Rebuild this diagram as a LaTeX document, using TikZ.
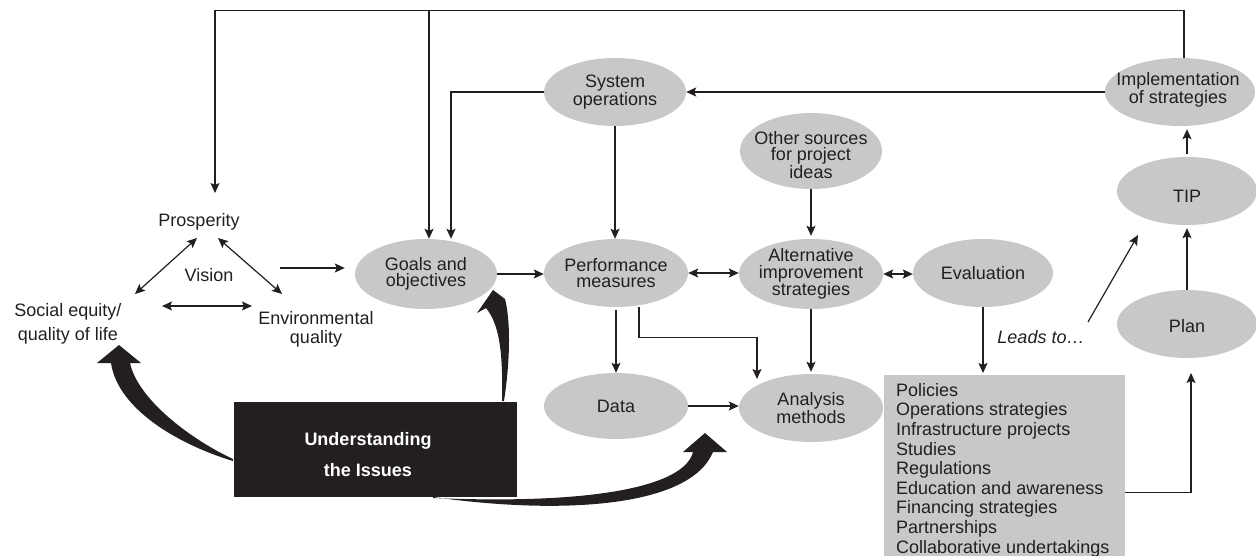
\documentclass[tikz,border=0pt]{standalone}
\usepackage{fontspec}
\setmainfont{Liberation Sans}
\usetikzlibrary{shapes.geometric,arrows.meta,calc}
\definecolor{ink}{HTML}{231F20}
\definecolor{ovalgray}{HTML}{C8C8CA}
\definecolor{boxgray}{HTML}{C8C8C8}
\begin{document}
\begin{tikzpicture}[x=1pt,y=-1pt,
  lbl/.style={font=\fontsize{18}{16.5}\selectfont, text=ink, align=center, inner sep=0pt},
  oval/.style 2 args={ellipse, fill=ovalgray, draw=none, inner sep=0pt, minimum width=#1, minimum height=#2},
  conn/.style={draw=ink, line width=1.2pt},
  arr/.style={conn, -{Stealth[length=10pt,width=9pt,inset=2pt]}},
  darr/.style={conn, {Stealth[length=10pt,width=9pt,inset=2pt]}-{Stealth[length=10pt,width=9pt,inset=2pt]}},
  fat/.style={fill=ink, draw=none}
]
\useasboundingbox (0,0) rectangle (1256,556);

% ---- ovals ----
\node[oval={142pt}{70pt}] (goals) at (426,274) {};
\node[lbl] at (goals) {Goals and\\objectives};
\node[oval={144pt}{68pt}] (perf) at (616,273) {};
\node[lbl] at (perf) {Performance\\measures};
\node[oval={144pt}{70pt}] (alt) at (811,274) {};
\node[lbl] at (alt) {Alternative\\improvement\\strategies};
\node[oval={140pt}{68pt}] (eval) at (983,273) {};
\node[lbl] at (eval) {Evaluation};
\node[oval={142pt}{68pt}] (sysops) at (615,92) {};
\node[lbl] at (sysops) {System\\operations};
\node[oval={142pt}{76pt}] (other) at (811,151) {};
\node[lbl] at (811,155) {Other sources\\for project\\ideas};
\node[oval={150pt}{68pt}] (impl) at (1180,92) {};
\node[lbl] at (1178,90) {Implementation\\of strategies};
\node[oval={140pt}{68pt}] (tip) at (1187,191) {};
\node[lbl] at (1187,196) {TIP};
\node[oval={140pt}{68pt}] (plan) at (1187,324) {};
\node[lbl] at (1187,326) {Plan};
\node[oval={144pt}{66pt}] (data) at (616,406) {};
\node[lbl] at (data) {Data};
\node[oval={144pt}{68pt}] (ana) at (811,408) {};
\node[lbl] at (ana) {Analysis\\methods};

% ---- vision texts ----
\node[lbl] (prosp) at (199,222) {Prosperity};
\node[lbl] (vision) at (209,275) {Vision};
\node[lbl, font=\fontsize{18}{24}\selectfont] (social) at (68,324) {Social equity/\\quality of life};
\node[lbl, font=\fontsize{18}{19}\selectfont] (env) at (316,329) {Environmental\\quality};

% ---- boxes ----
\node[fill=boxgray, minimum width=241pt, minimum height=181pt, inner sep=0pt, anchor=north west] (box) at (884,375) {};
\node[lbl, align=left, anchor=north west, font=\fontsize{18}{19.6}\selectfont] at (896,383)
  {Policies\\Operations strategies\\Infrastructure projects\\Studies\\Regulations\\Education and awareness\\Financing strategies\\Partnerships\\Collaborative undertakings};
\node[fill=ink, minimum width=283pt, minimum height=95pt, inner sep=0pt, anchor=north west] (issues) at (234,402) {};
\node[lbl, text=white, font=\bfseries\fontsize{18}{31}\selectfont] at (368,455) {Understanding\\the Issues};

\node[lbl, font=\itshape\fontsize{18}{18}\selectfont] (leads) at (1041,337) {Leads to…};

% ---- connectors ----
\coordinate (prospIn) at (215,193);
\draw[arr] ([xshift=4pt]impl.north) -- ++(0,-47) -| (prospIn);
\coordinate (topJ) at (429,11);
\draw[arr] (topJ) -- (topJ |- goals.north);
\draw[arr] (sysops.west) -| ([xshift=25pt]goals.north);
\draw[arr] (impl.west) -- (sysops.east);
\draw[arr] (sysops.south) -- (sysops.south |- perf.north);
\draw[arr, shorten >=3pt] (other.south) -- (alt.north);

\coordinate (vOut) at (280,268);
\draw[arr, shorten >=10pt] (vOut) -- (vOut -| goals.west);
\draw[arr] (goals.east) -- (goals.east -| perf.west);
\draw[darr] (perf.east) -- (perf.east -| alt.west);
\draw[darr] (alt.east) -- (alt.east -| eval.west);
\draw[arr, shorten <=3pt] (perf.south) -- (perf.south |- data.north);
\coordinate (anaIn) at (757,379);
\draw[arr] ([xshift=23pt]perf.south) -- ++(0,30) -| (anaIn);
\draw[arr, shorten >=2pt] (alt.south) -- (alt.south |- ana.north);
\draw[arr] (data.east) -- (data.east -| ana.west);
\draw[arr, shorten >=2pt] (eval.south) -- (eval.south |- box.north);
\coordinate (planIn) at (1191,373);
\draw[arr] ([yshift=-27pt]box.east) -| (planIn);
\draw[arr, shorten >=3pt] (plan.north) -- (plan.north |- tip.south);
\draw[arr, shorten <=3pt, shorten >=3pt] (tip.north) -- (tip.north |- impl.south);
\coordinate (leadA) at (1088,322);
\coordinate (leadB) at (1138,235);
\draw[arr] (leadA) -- (leadB);

% vision triangle
\coordinate (sp1) at (135,294); \coordinate (sp2) at (197,238);
\coordinate (ep1) at (218,238); \coordinate (ep2) at (282,294);
\coordinate (se1) at (162,306); \coordinate (se2) at (252,306);
\draw[darr] (sp1) -- (sp2);
\draw[darr] (ep1) -- (ep2);
\draw[darr] (se1) -- (se2);

% ---- fat curved arrows ----
\fill[fat] (233,461) .. controls (180,445) and (118,410) .. (111,363) -- (97,363) -- (119,345) -- (141,363) -- (130,363) .. controls (138,400) and (192,440) .. (233,459) -- cycle;
\fill[fat] (502,401) .. controls (503,355) and (500,325) .. (486,308) -- (477,313) -- (493,290) -- (505,299) .. controls (510,318) and (511,355) .. (504,401) -- cycle;
\fill[fat] (433,497) .. controls (560,515) and (690,508) .. (713,452) -- (727,452) -- (705,433) -- (683,452) -- (693,452) .. controls (685,485) and (600,505) .. (433,498) -- cycle;
\end{tikzpicture}
\end{document}
